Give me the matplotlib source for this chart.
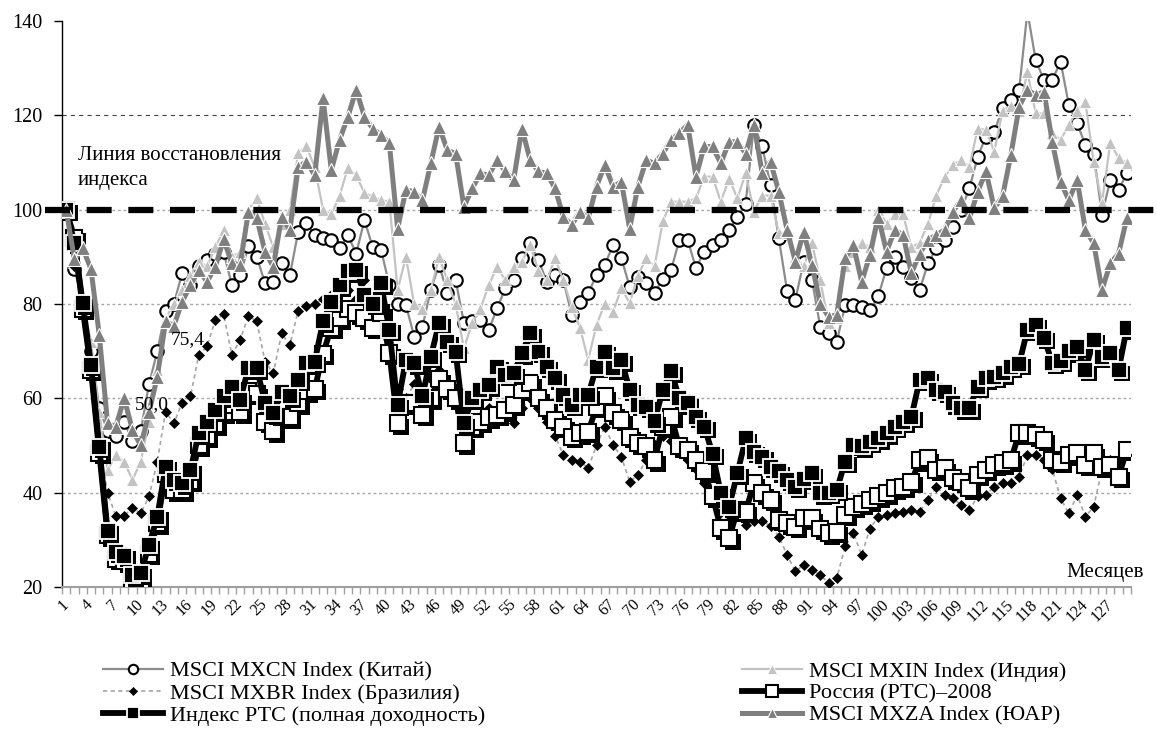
import matplotlib
matplotlib.use("Agg")
import matplotlib.pyplot as plt
import matplotlib.patheffects as pe
from matplotlib.lines import Line2D
import numpy as np

plt.rcParams["font.family"] = ["Liberation Serif", "DejaVu Serif"]
plt.rcParams["lines.scale_dashes"] = False

months = np.arange(1, 130)

china = [100, 87.5, 80, 70, 58, 53, 52, 55, 51, 53,
         63, 70, 78.5, 80, 86.6, 84, 88, 89.3, 90.5, 91,
         84, 86.1, 92.2, 90, 84.4, 84.7, 88.6, 86.1, 95.3, 97.1,
         94.6, 93.9, 93.6, 91.8, 94.6, 90.7, 97.8, 92, 91.5, 84,
         80, 79.8, 73.1, 75.2, 83, 88.3, 82.3, 85.1, 76, 76.3,
         76.6, 74.5, 79.1, 83.3, 85.1, 89.7, 92.9, 89.3, 84.7, 86.1,
         85.1, 77.7, 80.5, 82.3, 86.1, 88.3, 92.5, 89.7, 83.7, 85.8,
         84.4, 82.3, 85.4, 87.2, 93.6, 93.6, 87.6, 91.1, 92.5, 93.6,
         95.7, 98.5, 101.3, 118, 113.4, 105.2, 93.9, 82.8, 80.9, 89,
         85.1, 75.2, 73.8, 72.0, 79.8, 79.8, 79.4, 78.7, 81.6, 87.6,
         90, 87.9, 85.5, 83, 88.6, 91.8, 93.6, 96.4, 100, 104.5,
         111.2, 115.5, 116.5, 121.5, 123.3, 125.4, 142, 131.7, 127.5, 127.5,
         131.4, 122.2, 118.3, 113.7, 111.9, 98.9, 106.3, 104.2, 107.7]

india = [100, 89, 80, 72, 57, 44.8, 48, 46.6, 42.7, 46.6,
         55, 66, 77, 80, 83, 86, 89, 88, 92, 95.7,
         90, 91, 100, 102.4, 97, 92, 97, 100, 112, 113.4,
         109, 100, 99, 103, 108.8, 107.3, 103.5, 102.8, 102, 101.7,
         83, 90, 80, 79, 83, 90, 85, 80, 70.6, 76,
         79, 84, 87.9, 85, 87.9, 89, 92.5, 87, 85, 89.7,
         85, 79.4, 75, 68.1, 75.6, 80, 78.4, 83.3, 80.2, 86,
         89.7, 88, 97.5, 101.7, 101.7, 101.7, 102.4, 107, 107, 101.7,
         106.6, 102.4, 107.7, 99.6, 103, 103, 95, 95, 90, 88,
         93, 85, 76, 77, 88, 91, 93, 92, 100, 97,
         99, 99, 92, 93, 97, 103, 106.9, 109.5, 110.5, 109.1,
         117.2, 116.9, 112.3, 121, 122, 121, 129.2, 120.4, 120.4, 116.2,
         114.8, 118, 121, 122.8, 110, 101.5, 114.1, 111, 109.9]

brazil = [100, 88, 79, 65, 50, 40, 35, 35.1, 36.8, 35.6,
          39.2, 46.6, 57.2, 54.7, 59.1, 60.4, 69.2, 71, 76.6, 77.8,
          69.2, 72.4, 77.5, 76.3, 67.8, 65.3, 73.8, 71.3, 78.6, 79.6,
          80, 81, 82, 84, 83, 81, 85, 80, 78, 70,
          62, 60, 63, 62, 64, 66, 62, 60, 56, 55,
          56, 58, 57, 56, 54.7, 58, 60, 58, 55, 52,
          48, 46.9, 46.6, 45.2, 50, 54, 50.1, 47.6, 42.3, 43.8,
          47, 50, 52, 51, 49, 47, 45, 42, 38, 36,
          34, 35, 33.2, 34, 33.9, 33, 30.7, 26.8, 23.3, 24.7,
          23.6, 22.6, 20.8, 21.9, 28.6, 31.4, 26.8, 32.4, 34.9, 35.3,
          35.6, 36, 36.3, 36, 38.4, 41.3, 39.5, 38.8, 37.4, 36.3,
          39.2, 39.5, 41.3, 42, 42, 43.4, 48, 48, 47, 45,
          38.8, 35.6, 39.5, 34.9, 37, 45, 47, 47, 48]

russia_2008 = [100, 94, 79, 66, 48.5, 31, 26, 25.5, 21, 21.5,
               27, 33.5, 44, 40.5, 40.5, 42.5, 50, 52, 54.5, 57,
               58.5, 57, 61.5, 61, 55, 53, 56, 56, 59, 61.5,
               62, 69.5, 75, 77, 79, 78, 77, 75, 78, 69.6,
               54.7, 59, 59, 56.5, 60, 64, 62, 60, 50.5, 54,
               55, 56, 56.5, 57.5, 58.6, 61.8, 63.2, 60, 57.9, 55.4,
               54, 51.9, 52.6, 52.9, 58.2, 60.4, 56.8, 55.4, 51.9, 50.5,
               49.8, 46.9, 54, 56.1, 49.8, 49.1, 46.9, 44.5, 39.2, 32.5,
               30.3, 36.3, 36, 42, 39.9, 38.5, 34.2, 33.5, 32.8, 34.6,
               34.6, 32.4, 31.4, 31.7, 35.3, 37, 37.7, 38.4, 39.2, 39.9,
               40.9, 41.3, 42.3, 46.9, 47.3, 44.8, 45.2, 43.1, 42.3, 40.9,
               43.8, 44.8, 45.9, 46.2, 46.9, 52.6, 52.6, 52.2, 51.2, 46.9,
               46.6, 48, 48.4, 45.9, 48.4, 45.5, 45.9, 43.4, 49.1]

rts_total = [100, 93, 80.2, 67.1, 49.7, 31.9, 27.5, 26.6, 22.5, 22.9,
             28.9, 34.9, 45.5, 42.7, 42, 44.8, 52.6, 55, 57.5, 60.4,
             62.5, 59.7, 66.4, 66.4, 59, 56.8, 61.4, 60.4, 63.9, 67.4,
             67.8, 76.3, 80.5, 84, 86.9, 87.2, 82, 80, 84.4, 74.5,
             58.6, 68.1, 67.4, 60.4, 68.8, 75.9, 72, 69.9, 54.7, 60,
             61.8, 62.8, 66.7, 65, 65.3, 69.6, 73.8, 69.9, 66.7, 64.3,
             60.7, 58.6, 60.7, 60.7, 66.7, 69.9, 66.4, 68.1, 61.8, 58.6,
             58.2, 55.1, 61.8, 65.7, 60, 59, 56.1, 54, 48.3, 39.9,
             37, 44.1, 51.5, 48.7, 47.6, 45.5, 44.5, 42.7, 41.3, 43,
             44.1, 39.9, 40, 40.6, 46.6, 50.1, 49.8, 50.8, 51.5, 52.6,
             54, 55, 56.1, 63.9, 64.3, 61.8, 61.4, 59, 57.9, 57.9,
             62.5, 64.3, 64.6, 65.3, 66.7, 67.3, 74.5, 75.6, 72.8, 67.5,
             68, 70, 70.9, 66, 72.4, 68.8, 69.6, 66, 74.9]

south_africa = [100, 89.5, 91.8, 87.4, 73.4, 54.7, 54.0, 60.0, 53.3, 50.0,
                57, 64.6, 76.3, 75.4, 80.5, 84.0, 87.2, 84.7, 87.9, 93.7,
                88.6, 88.3, 99.6, 98.2, 91.1, 87.9, 98.5, 95.7, 109, 110.2,
                107.3, 123.6, 108.4, 114.8, 119.7, 125.4, 119.7, 117.2, 115.8, 114.1,
                96.0, 104.2, 103.8, 102.0, 109.8, 117.6, 112.6, 111.9, 100.6, 104.5,
                107.7, 107.3, 110.5, 108.1, 106.3, 117.2, 110.5, 108.1, 107.7, 104.5,
                98.5, 96.7, 99.6, 98.2, 104.9, 109.5, 104.9, 105.9, 96.0, 104.9,
                110.5, 109.8, 111.9, 114.8, 116.2, 118.0, 107.0, 113.4, 113.4, 109.8,
                114.4, 114.4, 111.9, 118.0, 107.7, 110.2, 103.8, 95.7, 89.0, 95.3,
                88.3, 80.1, 77.3, 77.7, 89.7, 92.5, 84.7, 90.4, 98.5, 91.1,
                95.7, 94.6, 86.5, 90.7, 93.6, 94.6, 95.7, 99.6, 102.0, 98.2,
                103.8, 108.1, 100.3, 102.8, 111.6, 121.8, 125.4, 124.3, 125.0, 114.4,
                105.9, 102.0, 106.3, 95.7, 92.9, 83.0, 88.6, 90.7, 98.2]

labels = ["MSCI MXCN Index (Китай)", "MSCI MXIN Index (Индия)",
          "MSCI MXBR Index (Бразилия)", "Россия (РТС)–2008",
          "Индекс РТС (полная доходность)", "MSCI MXZA Index (ЮАР)"]

fig = plt.figure(figsize=(11.57, 7.33), dpi=100)
ax = fig.add_axes([62 / 1157, 1 - 587 / 733, (1131 - 62) / 1157, (587 - 21) / 733])
ax.set_xlim(0.5, 129.5)
ax.set_ylim(20, 140)

# grid lines
for v in [40, 60, 80, 100]:
    ax.axhline(v, color="#a6a6a6", lw=1, ls=(0, (2, 2)), zorder=0.5)
ax.axhline(120, color="#404040", lw=0.8, ls=(0, (3, 3)), zorder=0.5)

shadow = [pe.SimplePatchShadow(offset=(2.5, -2.5), shadow_rgbFace="black", alpha=1.0), pe.Normal()]

# (data, line style, marker style, shadow?)
series = [
    (china, dict(color="#8c8c8c", lw=1.6),
     dict(marker="o", ms=9, mfc="white", mec="black", mew=1.5), False),
    (india, dict(color="#c3c3c3", lw=1.6),
     dict(marker="^", ms=9, mfc="#c3c3c3", mec="white", mew=0.6), False),
    (brazil, dict(color="#a6a6a6", lw=1.2, dashes=(3, 2.5)),
     dict(marker="D", ms=5, mfc="black", mec="black", mew=0.5), False),
    (russia_2008, dict(color="black", lw=4.2),
     dict(marker="s", ms=11.5, mfc="white", mec="black", mew=1.5), True),
    (rts_total, dict(color="black", lw=4.2),
     dict(marker="s", ms=11.5, mfc="black", mec="white", mew=1.3), True),
    (south_africa, dict(color="#7f7f7f", lw=3.6),
     dict(marker="^", ms=10, mfc="#7f7f7f", mec="white", mew=0.8), False),
]

z = 2
for vals, lstyle, mstyle, shad in series:
    ax.plot(months, vals, zorder=z, solid_joinstyle="round", **lstyle)
    mk = ax.plot(months, vals, ls="none", zorder=z + 0.5, **mstyle)[0]
    if shad:
        mk.set_path_effects(shadow)
    z += 1

# recovery line
ax.plot([-1.55, 132.6], [100, 100], color="black", lw=4.5, dashes=(18, 12),
        solid_capstyle="butt", dash_capstyle="butt", clip_on=False, zorder=20)

# axes styling
for s in ["top", "right"]:
    ax.spines[s].set_visible(False)
ax.spines["left"].set_color("black")
ax.spines["left"].set_linewidth(1)
ax.spines["bottom"].set_color("#a0a0a0")
ax.spines["bottom"].set_linewidth(1.5)

ax.set_yticks(range(20, 141, 20))
ax.tick_params(axis="y", length=6, width=1, color="black", labelsize=14.5, pad=8)

ax.set_xticks(range(1, 130, 3))
ax.set_xticklabels([str(i) for i in range(1, 130, 3)])
ax.set_xticks(np.arange(0.5, 130, 1), minor=True)
ax.tick_params(axis="x", which="major", length=0, labelsize=11.5, pad=11)
ax.tick_params(axis="x", which="minor", length=5, width=1, color="#a0a0a0")
for lab in ax.get_xticklabels():
    lab.set_rotation(45)
    lab.set_ha("right")
    lab.set_va("center")
    lab.set_rotation_mode("anchor")

# texts
ax.text(2.43, 108.8, "Линия восстановления\nиндекса", fontsize=15, ha="left",
        va="center", linespacing=1.42, zorder=25)
ax.text(131.1, 23.0, "Месяцев", fontsize=15, ha="right", va="center", clip_on=False)
ax.text(15.7, 72.4, "75,4", fontsize=14, ha="center", va="center", zorder=25)
ax.text(11.3, 58.6, "50,0", fontsize=14, ha="center", va="center", zorder=25)

# legend
def handle(i):
    vals, lstyle, mstyle, shad = series[i]
    m = dict(mstyle)
    m["ms"] = m["ms"] * 0.75
    return Line2D([], [], **lstyle, **m)

leg_kw = dict(loc="upper left", frameon=False, fontsize=16, handlelength=2.7,
              handletextpad=0.3, labelspacing=0.07, borderpad=0, borderaxespad=0,
              numpoints=1)
fig.legend([handle(0), handle(2), handle(4)], [labels[0], labels[2], labels[4]],
           bbox_to_anchor=(103 / 1157, 1 - 661 / 733), **leg_kw)
fig.legend([handle(1), handle(3), handle(5)], [labels[1], labels[3], labels[5]],
           bbox_to_anchor=(742 / 1157, 1 - 661 / 733), **leg_kw)

fig.savefig("out.png", dpi=100)
